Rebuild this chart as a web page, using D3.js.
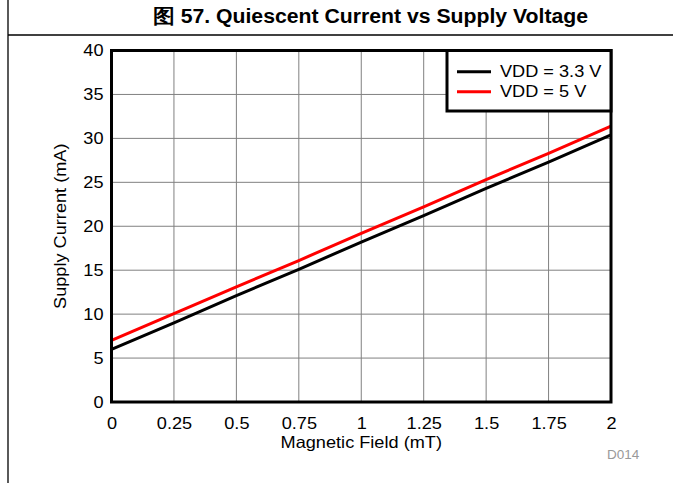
<!DOCTYPE html>
<html>
<head>
<meta charset="utf-8">
<script src="https://cdn.jsdelivr.net/npm/d3@7"></script>
<style>
  html, body { margin: 0; padding: 0; background: #fff; }
  svg { display: block; font-family: "Liberation Sans", Arial, sans-serif; }
</style>
</head>
<body>
<svg id="chart" width="673" height="483"></svg>
<script>
// Magnetic field sample points (mT)
const fieldValues = [0, 0.25, 0.5, 0.75, 1, 1.25, 1.5, 1.75, 2];
// Supply current (mA) for each supply voltage
const current33 = [6.0, 9.0, 12.1, 15.1, 18.2, 21.2, 24.3, 27.3, 30.4];
const current5 = [7.0, 10.05, 13.1, 16.1, 19.2, 22.2, 25.3, 28.3, 31.4];
const seriesNames = ["VDD = 3.3 V", "VDD = 5 V"];
const seriesColors = ["#000000", "#ff0000"];
const xTicks = [0, 0.25, 0.5, 0.75, 1, 1.25, 1.5, 1.75, 2];
const xTickLabels = ["0", "0.25", "0.5", "0.75", "1", "1.25", "1.5", "1.75", "2"];
const yTicks = [0, 5, 10, 15, 20, 25, 30, 35, 40];

const svg = d3.select("#chart");
const plot = { left: 111.5, right: 611, top: 50.5, bottom: 402 };
const FS = 16.5;      // chart text size
const WIDEN = 1.1;    // the figure's lettering runs a little wide

// Stretch a text's advance width by a factor
function widen(sel, k) {
  sel.each(function () {
    const len = this.getComputedTextLength();
    d3.select(this).attr("textLength", len * k).attr("lengthAdjust", "spacingAndGlyphs");
  });
}

// Figure frame: rule under the caption and the left edge
svg.append("line").attr("x1", 8).attr("x2", 673).attr("y1", 35).attr("y2", 35)
  .attr("stroke", "#000").attr("stroke-width", 1.3);
svg.append("line").attr("x1", 8).attr("x2", 8).attr("y1", 0).attr("y2", 483)
  .attr("stroke", "#000").attr("stroke-width", 1.3);

const title = svg.append("text").attr("x", 153).attr("y", 22.5)
  .attr("font-size", 19.5).attr("font-weight", "bold").attr("fill", "#000")
  .text("图 57. Quiescent Current vs Supply Voltage");
title.attr("textLength", 435).attr("lengthAdjust", "spacingAndGlyphs");

const x = d3.scaleLinear().domain([0, 2]).range([plot.left, plot.right]);
const y = d3.scaleLinear().domain([0, 40]).range([plot.bottom, plot.top]);

// Grid
const grid = svg.append("g");
grid.selectAll(".vg").data(xTicks).join("line")
  .attr("x1", d => x(d)).attr("x2", d => x(d))
  .attr("y1", plot.top).attr("y2", plot.bottom)
  .attr("stroke", "#808080").attr("stroke-width", 1);
grid.selectAll(".hg").data(yTicks).join("line")
  .attr("x1", plot.left).attr("x2", plot.right)
  .attr("y1", d => y(d)).attr("y2", d => y(d))
  .attr("stroke", "#808080").attr("stroke-width", 1);

// Axes (labels only; the frame is drawn separately)
const xAxis = svg.append("g").attr("transform", `translate(0,${plot.bottom})`)
  .call(d3.axisBottom(x).tickValues(xTicks).tickFormat((d, i) => xTickLabels[i]).tickSize(0).tickPadding(15));
const yAxis = svg.append("g").attr("transform", `translate(${plot.left},0)`)
  .call(d3.axisLeft(y).tickValues(yTicks).tickFormat(d3.format("d")).tickSize(0).tickPadding(8));
[xAxis, yAxis].forEach(a => {
  a.select(".domain").remove();
  a.selectAll("text").attr("font-size", FS).attr("fill", "#000")
    .attr("font-family", "\"Liberation Sans\", Arial, sans-serif")
    .call(widen, WIDEN);
});

// Series lines
const line = d3.line().x((d, i) => x(fieldValues[i])).y(d => y(d));
[current33, current5].forEach((s, k) => {
  svg.append("path").datum(s).attr("d", line)
    .attr("fill", "none").attr("stroke", seriesColors[k]).attr("stroke-width", 3);
});

// Plot border
svg.append("rect").attr("x", plot.left).attr("y", plot.top)
  .attr("width", plot.right - plot.left).attr("height", plot.bottom - plot.top)
  .attr("fill", "none").attr("stroke", "#000").attr("stroke-width", 3);

// Legend
const lg = svg.append("g");
lg.append("rect").attr("x", 447).attr("y", 50.5).attr("width", plot.right - 447).attr("height", 60.5)
  .attr("fill", "#fff").attr("stroke", "#000").attr("stroke-width", 3);
seriesNames.forEach((name, k) => {
  const yy = 71.7 + k * 20;
  lg.append("line").attr("x1", 457).attr("x2", 491).attr("y1", yy).attr("y2", yy)
    .attr("stroke", seriesColors[k]).attr("stroke-width", 3);
  lg.append("text").attr("x", 500).attr("y", yy + 5.5).attr("font-size", FS).attr("fill", "#000")
    .text(name).call(widen, WIDEN);
});

// Axis titles
svg.append("text").attr("x", (plot.left + plot.right) / 2).attr("y", 447.5)
  .attr("text-anchor", "middle").attr("font-size", FS).attr("fill", "#000")
  .text("Magnetic Field (mT)").call(widen, WIDEN);
svg.append("text").attr("transform", `translate(66,${(plot.top + plot.bottom) / 2}) rotate(-90)`)
  .attr("text-anchor", "middle").attr("font-size", FS).attr("fill", "#000")
  .text("Supply Current (mA)").call(widen, WIDEN);

svg.append("text").attr("x", 607).attr("y", 459).attr("font-size", 13.5).attr("fill", "#999")
  .text("D014");
</script>
</body>
</html>
